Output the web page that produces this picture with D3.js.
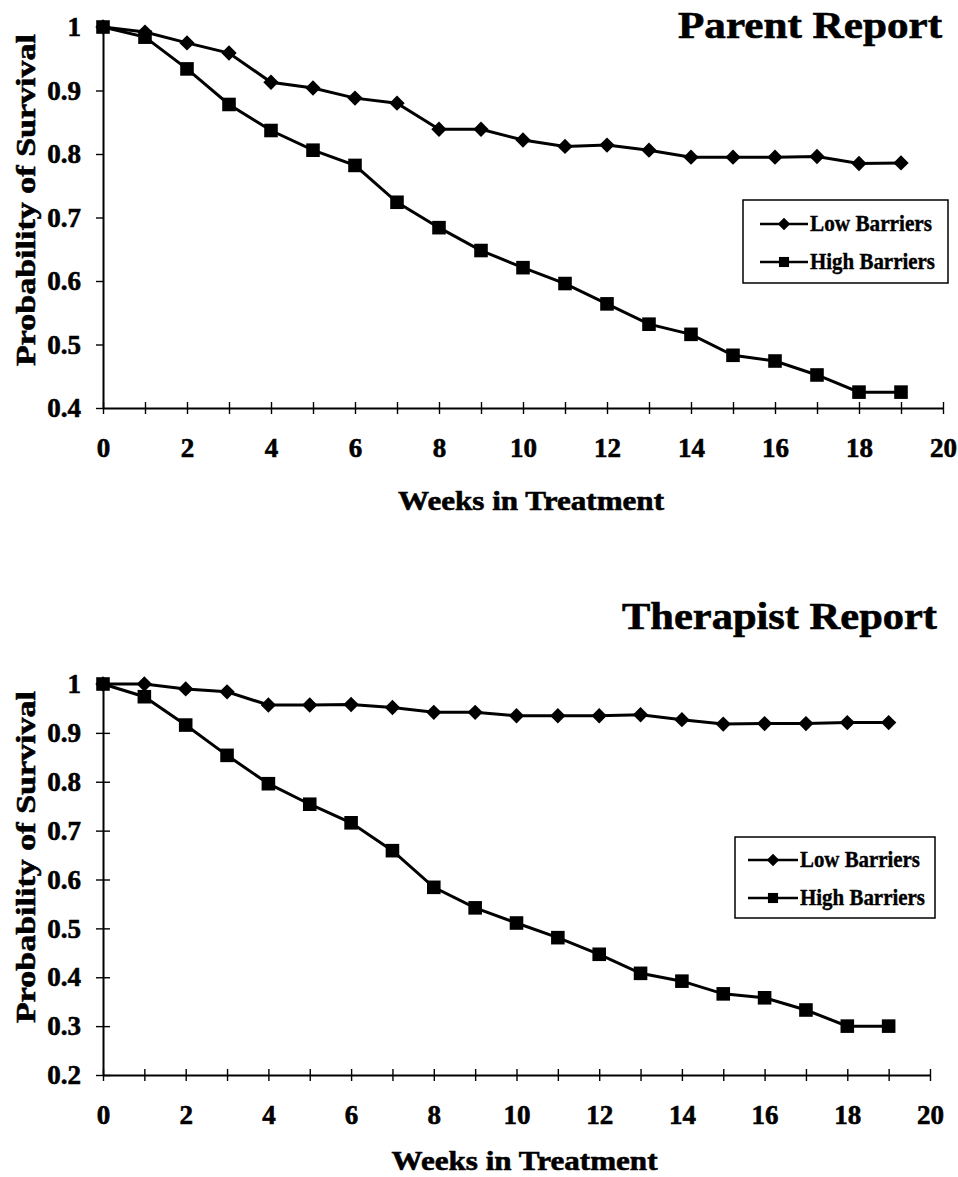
<!DOCTYPE html>
<html>
<head>
<meta charset="utf-8">
<script src="https://cdn.jsdelivr.net/npm/d3@7"></script>
<style>
  body { margin: 0; background: #fff; }
  svg { display: block; }
  text { font-family: "Liberation Serif", "Times New Roman", serif; font-weight: bold; fill: #000; stroke: #000; stroke-width: 0.6px; }
</style>
</head>
<body>
<svg id="chart" width="958" height="1177"></svg>
<script>
// weeks in treatment (x categories)
const weeks = [0, 1, 2, 3, 4, 5, 6, 7, 8, 9, 10, 11, 12, 13, 14, 15, 16, 17, 18, 19]
const xTicks = [0, 1, 2, 3, 4, 5, 6, 7, 8, 9, 10, 11, 12, 13, 14, 15, 16, 17, 18, 19, 20]
const seriesNames = ["Low Barriers", "High Barriers"]

// Parent report
const parentLow  = [1.0, 0.992, 0.975, 0.959, 0.913, 0.904, 0.888, 0.880, 0.839, 0.839, 0.822, 0.812, 0.814, 0.806, 0.795, 0.795, 0.795, 0.796, 0.785, 0.786]
const parentHigh = [1.0, 0.984, 0.934, 0.878, 0.837, 0.806, 0.782, 0.724, 0.684, 0.648, 0.621, 0.596, 0.564, 0.532, 0.516, 0.483, 0.474, 0.452, 0.425, 0.425]
const parentYTicks = [0.4, 0.5, 0.6, 0.7, 0.8, 0.9, 1]

// Therapist report
const therLow  = [1.0, 1.0, 0.990, 0.984, 0.957, 0.957, 0.958, 0.952, 0.942, 0.942, 0.935, 0.935, 0.935, 0.937, 0.927, 0.918, 0.919, 0.919, 0.921, 0.921]
const therHigh = [1.0, 0.974, 0.916, 0.854, 0.796, 0.754, 0.716, 0.659, 0.584, 0.542, 0.511, 0.481, 0.447, 0.408, 0.392, 0.366, 0.358, 0.333, 0.300, 0.300]
const therYTicks = [0.2, 0.3, 0.4, 0.5, 0.6, 0.7, 0.8, 0.9, 1]

const svg = d3.select("#chart")

const charts = [
  { title: "Parent Report", low: parentLow, high: parentHigh, yTicks: parentYTicks,
    x0: 103, x1: 943, yTop: 27, yBot: 408, yTickIn: 0,
    titleX: 942, titleY: 38, titleLen: 264,
    xLabelBase: 457, xTitleY: 510, yTitleY: 200,
    legend: { x: 743, y: 200, w: 205, h: 83, lineX0: 760, lineX1: 808, textX: 810, rows: [231, 269], lens: [122, 125] } },
  { title: "Therapist Report", low: therLow, high: therHigh, yTicks: therYTicks,
    x0: 103, x1: 930, yTop: 684, yBot: 1075, yTickIn: 7,
    titleX: 937, titleY: 629, titleLen: 315,
    xLabelBase: 1124, xTitleY: 1170, yTitleY: 857,
    legend: { x: 735, y: 837, w: 200, h: 81, lineX0: 748, lineX1: 798, textX: 800, rows: [867, 905], lens: [120, 125] } }
]

charts.forEach(drawChart)

function drawChart(c) {
  const g = svg.append("g")
  const yMin = c.yTicks[0]

  const x = d3.scaleLinear().domain([0, 20]).range([c.x0, c.x1])
  const y = d3.scaleLinear().domain([yMin, 1]).range([c.yBot, c.yTop])

  // x axis with crossing ticks
  const xAxis = g.append("g")
    .attr("transform", `translate(0,${c.yBot})`)
    .call(d3.axisBottom(x).tickValues(xTicks).tickSize(6).tickSizeOuter(0)
      .tickFormat(d => d % 2 === 0 ? d : ""))
  xAxis.select(".domain").attr("stroke", "#000").attr("stroke-width", 2)
  xAxis.selectAll(".tick line").attr("y1", -6).attr("y2", 6).attr("stroke-width", 1.4)
  xAxis.selectAll(".tick text")
    .attr("y", c.xLabelBase - c.yBot)
    .attr("dy", 0)
    .style("font-size", "27px")
    .style("font-family", "'Liberation Serif', serif")
    .style("font-weight", "bold")

  // y axis
  const yAxis = g.append("g")
    .attr("transform", `translate(${c.x0},0)`)
    .call(d3.axisLeft(y).tickValues(c.yTicks).tickSize(7).tickSizeOuter(0)
      .tickFormat(d => d === 1 ? "1" : d3.format(".1f")(d)))
  yAxis.select(".domain").attr("stroke", "#000").attr("stroke-width", 2)
  yAxis.selectAll(".tick line").attr("x2", -7).attr("x1", c.yTickIn).attr("stroke-width", 1.4)
  yAxis.selectAll(".tick text")
    .attr("x", -22)
    .style("font-size", "27px")
    .style("font-family", "'Liberation Serif', serif")
    .style("font-weight", "bold")

  // title
  g.append("text")
    .attr("x", c.titleX).attr("y", c.titleY)
    .attr("text-anchor", "end")
    .attr("textLength", c.titleLen)
    .attr("lengthAdjust", "spacingAndGlyphs")
    .style("font-size", "37px")
    .text(c.title)

  // axis titles
  g.append("text")
    .attr("x", (c.x0 + c.x1) / 2 + 8).attr("y", c.xTitleY)
    .attr("text-anchor", "middle")
    .attr("textLength", 266)
    .attr("lengthAdjust", "spacingAndGlyphs")
    .style("font-size", "28px")
    .text("Weeks in Treatment")

  g.append("text")
    .attr("transform", `translate(35,${c.yTitleY}) rotate(-90)`)
    .attr("text-anchor", "middle")
    .attr("textLength", 332)
    .attr("lengthAdjust", "spacingAndGlyphs")
    .style("font-size", "28px")
    .text("Probability of Survival")

  const line = d3.line().x((d, i) => x(weeks[i])).y(d => y(d))
  const diamond = d3.symbol().type(d3.symbolDiamond2)
  const square = d3.symbol().type(d3.symbolSquare2)

  // high barriers
  g.append("path").datum(c.high)
    .attr("d", line).attr("fill", "none").attr("stroke", "#000").attr("stroke-width", 3)
  g.selectAll(".sq").data(c.high).join("path")
    .attr("class", "sq")
    .attr("transform", (d, i) => `translate(${x(weeks[i])},${y(d)})`)
    .attr("d", square.size(235)())
    .attr("fill", "#000")

  // low barriers
  g.append("path").datum(c.low)
    .attr("d", line).attr("fill", "none").attr("stroke", "#000").attr("stroke-width", 3)
  g.selectAll(".dm").data(c.low).join("path")
    .attr("class", "dm")
    .attr("transform", (d, i) => `translate(${x(weeks[i])},${y(d)})`)
    .attr("d", diamond.size(150)())
    .attr("fill", "#000")

  // legend
  const L = c.legend
  const lg = g.append("g")
  lg.append("rect")
    .attr("x", L.x).attr("y", L.y).attr("width", L.w).attr("height", L.h)
    .attr("fill", "#fff").attr("stroke", "#000").attr("stroke-width", 1.5)
  seriesNames.forEach((name, i) => {
    const cy = L.rows[i] - 7
    lg.append("line")
      .attr("x1", L.lineX0).attr("x2", L.lineX1).attr("y1", cy).attr("y2", cy)
      .attr("stroke", "#000").attr("stroke-width", 2.5)
    lg.append("path")
      .attr("transform", `translate(${(L.lineX0 + L.lineX1) / 2},${cy})`)
      .attr("d", i === 0 ? diamond.size(100)() : square.size(130)())
      .attr("fill", "#000")
    lg.append("text")
      .attr("x", L.textX).attr("y", L.rows[i])
      .attr("textLength", L.lens[i])
      .attr("lengthAdjust", "spacingAndGlyphs")
      .style("font-size", "23px")
      .style("stroke-width", "0.4px")
      .text(name)
  })
}
</script>
</body>
</html>
